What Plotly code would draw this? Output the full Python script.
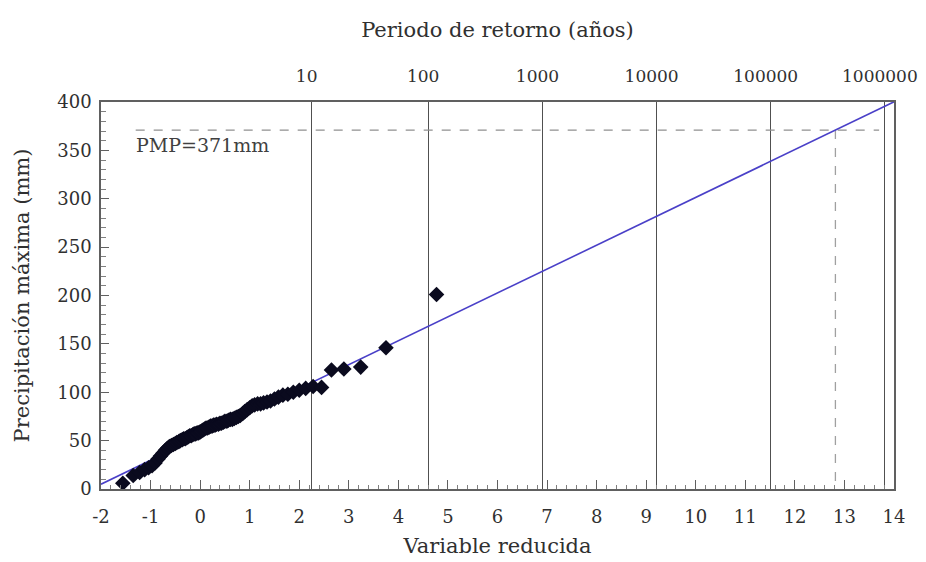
import numpy as np
import plotly.graph_objects as go

# variable reducida (Gumbel) y precipitacion maxima observada (mm)
var_reducida = [
    -1.56, -1.35, -1.22, -1.12, -1.04, -0.97, -0.91, -0.85, -0.80, -0.75,
    -0.70, -0.66, -0.62, -0.58, -0.54, -0.50, -0.47, -0.43, -0.40, -0.36,
    -0.33, -0.30, -0.27, -0.24, -0.21, -0.18, -0.15, -0.12, -0.09, -0.06,
    -0.03, 0.00, 0.03, 0.06, 0.09, 0.12, 0.15, 0.18, 0.21, 0.24,
    0.27, 0.30, 0.33, 0.37, 0.40, 0.43, 0.47, 0.50, 0.54, 0.57,
    0.61, 0.65, 0.69, 0.73, 0.77, 0.81, 0.86, 0.90, 0.95, 1.00,
    1.05, 1.10, 1.16, 1.22, 1.28, 1.35, 1.42, 1.50, 1.58, 1.67,
    1.77, 1.88, 2.00, 2.13, 2.28, 2.45, 2.65, 2.90, 3.24, 3.75, 4.77,
]
precip = [
    6, 14, 17, 20, 22, 24, 27, 31, 34, 37,
    40, 42, 44, 45, 46, 47, 48, 49, 50, 51,
    52, 52, 53, 54, 55, 55, 56, 57, 57, 58,
    58, 59, 60, 61, 62, 63, 63, 64, 65, 65,
    66, 66, 67, 67, 68, 68, 69, 70, 70, 71,
    72, 72, 73, 74, 75, 76, 78, 80, 82, 84,
    86, 87, 88, 88, 89, 90, 91, 93, 95, 97,
    98, 100, 102, 104, 106, 105, 123, 124, 126, 146, 201,
]

# ajuste lineal
pendiente = 24.7
ordenada = 54.4
pmp = 371

periodos = [10, 100, 1000, 10000, 100000, 1000000]
ticks_x = [-2, -1, 0, 1, 2, 3, 4, 5, 6, 7, 8, 9, 10, 11, 12, 13, 14]

serif = "DejaVu Serif, Liberation Serif, serif"

x_fit = np.array([-2, 14])
y_fit = ordenada + pendiente * x_fit
x_pmp = (pmp - ordenada) / pendiente

pos_T = [-np.log(-np.log(1 - 1 / t)) for t in periodos]

fig = go.Figure()

fig.add_trace(go.Scatter(
    x=[-1.3, 13.7], y=[pmp, pmp], mode="lines",
    line=dict(color="#909090", width=1.3, dash="dash"), hoverinfo="skip",
))
fig.add_trace(go.Scatter(
    x=[x_pmp, x_pmp], y=[pmp, 0], mode="lines",
    line=dict(color="#a0a0a0", width=1.3, dash="dash"), hoverinfo="skip",
))
fig.add_trace(go.Scatter(
    x=x_fit, y=y_fit, mode="lines",
    line=dict(color="#4a40c8", width=1.6),
))
fig.add_trace(go.Scatter(
    x=var_reducida, y=precip, mode="markers",
    marker=dict(symbol="diamond", size=12, color="#0a0a1e"),
))
# eje superior (periodo de retorno)
fig.add_trace(go.Scatter(x=[-2, 14], y=[0, 0], xaxis="x2", mode="lines",
                         line=dict(width=0), hoverinfo="skip"))

fig.add_annotation(
    x=-1.33, y=356, xref="x", yref="y", text="PMP=371mm", showarrow=False,
    xanchor="left", font=dict(family=serif, size=19, color="#404040"),
)

fig.update_layout(
    width=918, height=554,
    margin=dict(l=93, r=32, t=94, b=73),
    plot_bgcolor="white", paper_bgcolor="white",
    showlegend=False,
    font=dict(family=serif, size=18, color="#303030"),
    xaxis=dict(
        range=[-2, 14], tickmode="array", tickvals=ticks_x,
        ticktext=[str(t) for t in ticks_x],
        showgrid=False, zeroline=False, automargin=False,
        ticks="inside", ticklen=9, tickcolor="#606060", ticklabelstandoff=11,
        minor=dict(ticks="inside", ticklen=4, dtick=0.2, tickcolor="#808080"),
        showline=True, linecolor="#606060", linewidth=1.5, mirror=True,
        title=dict(text="Variable reducida", font=dict(size=21), standoff=12),
    ),
    xaxis2=dict(
        range=[-2, 14], overlaying="x", side="top", automargin=False,
        tickmode="array", tickvals=pos_T, ticktext=[str(t) for t in periodos],
        tickfont=dict(size=17), ticklabeloverflow="allow", ticklabelshift=-5,
        showgrid=True, gridcolor="#505050", gridwidth=1.2, zeroline=False,
        ticks="", showline=False, ticklabelstandoff=16,
        title=dict(text="Periodo de retorno (años)", font=dict(size=21), standoff=22),
    ),
    yaxis=dict(
        range=[0, 400], dtick=50, showgrid=False, zeroline=False,
        ticks="inside", ticklen=8, tickcolor="#606060", ticklabelstandoff=4,
        minor=dict(ticks="inside", ticklen=5, dtick=10, tickcolor="#808080"),
        showline=True, linecolor="#606060", linewidth=1.5, mirror=True,
        title=dict(text="Precipitación máxima (mm)", font=dict(size=21), standoff=22),
    ),
)

fig.write_html("out.html")
